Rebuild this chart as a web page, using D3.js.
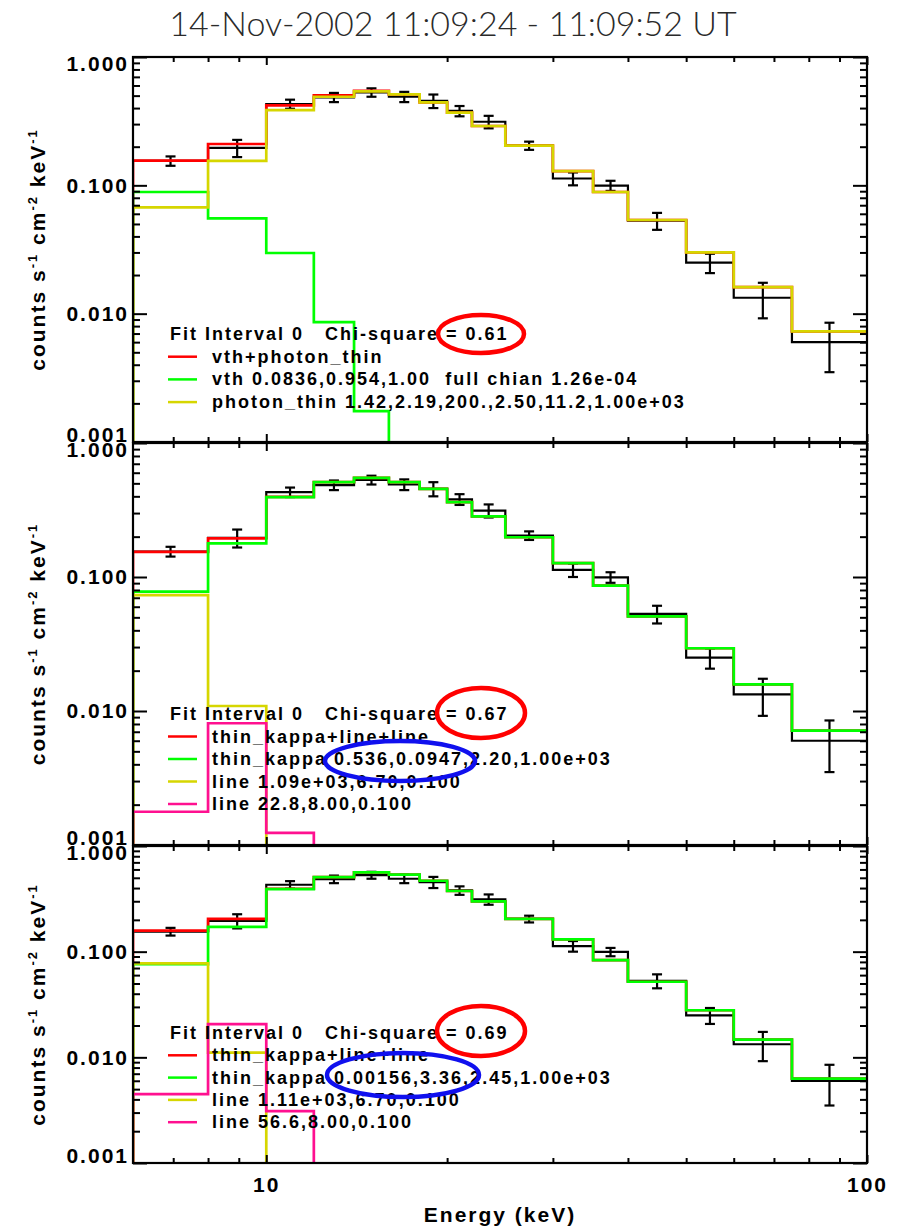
<!DOCTYPE html>
<html>
<head>
<meta charset="utf-8">
<script src="https://cdn.jsdelivr.net/npm/d3@7"></script>
<style>
  body { margin: 0; background: #fff; }
  svg text { font-family: "Liberation Sans", Arial, sans-serif; font-weight: bold; letter-spacing: 2px; }
  .title { font-family: "Lato", "DejaVu Sans", sans-serif; font-weight: 300; letter-spacing: 0; }
</style>
</head>
<body>
<svg id="chart" width="901" height="1228"></svg>
<script>
// energy bins (keV) and the measured spectrum, same interval in all 3 fits
const binEdges = [6, 8, 10, 12, 14, 16, 18, 20, 22, 25, 30, 35, 40, 50, 60, 75, 100];
const counts   = [0.155, 0.196, 0.43, 0.485, 0.53, 0.49, 0.455, 0.38, 0.313, 0.204, 0.113, 0.0995, 0.053, 0.025, 0.0133, 0.0060];
const countErr = [0.013, 0.03, 0.035, 0.04, 0.04, 0.045, 0.055, 0.035, 0.035, 0.015, 0.013, 0.009, 0.008, 0.0043, 0.0041, 0.0025];

// fit 1: vth + photon_thin
const topTotal = [0.156, 0.21, 0.42, 0.503, 0.545, 0.512, 0.443, 0.368, 0.29, 0.204, 0.129, 0.0887, 0.0537, 0.030, 0.0161, 0.00728];
const topVth   = [0.0887, 0.0553, 0.0297, 0.0086, 0.00174, null, null, null, null, null, null, null, null, null, null, null];
const topThin  = [0.0673, 0.155, 0.386, 0.49, 0.54, 0.512, 0.443, 0.368, 0.29, 0.204, 0.129, 0.0887, 0.0537, 0.030, 0.0161, 0.00728];

// fit 2: thin_kappa + line + line
const midTotal = [0.154, 0.194, 0.396, 0.511, 0.55, 0.511, 0.455, 0.362, 0.283, 0.198, 0.127, 0.0863, 0.0508, 0.0294, 0.0158, 0.00713];
const midKappa = [0.0778, 0.178, 0.394, 0.511, 0.55, 0.511, 0.455, 0.362, 0.283, 0.198, 0.127, 0.0863, 0.0508, 0.0294, 0.0158, 0.00713];
const midLine1 = [0.0733, 0.0109, null, null, null, null, null, null, null, null, null, null, null, null, null, null];
const midLine2 = [0.00177, 0.0081, 0.00123, null, null, null, null, null, null, null, null, null, null, null, null, null];

// fit 3: thin_kappa + line + line
const botTotal = [0.158, 0.204, 0.394, 0.508, 0.563, 0.535, 0.469, 0.375, 0.299, 0.204, 0.131, 0.083, 0.0519, 0.0279, 0.0147, 0.00628];
const botKappa = [0.076, 0.172, 0.391, 0.508, 0.563, 0.535, 0.469, 0.375, 0.299, 0.204, 0.131, 0.083, 0.0519, 0.0279, 0.0147, 0.00628];
const botLine1 = [0.0776, 0.0111, null, null, null, null, null, null, null, null, null, null, null, null, null, null];
const botLine2 = [0.00449, 0.0206, 0.0031, null, null, null, null, null, null, null, null, null, null, null, null, null];

const yTickValues = [1, 0.1, 0.01, 0.001];
const xTickValues = [10, 100];
const chiSquare = ["0.61", "0.67", "0.69"];
const topLegend = ["vth+photon_thin", "vth 0.0836,0.954,1.00  full chian 1.26e-04", "photon_thin 1.42,2.19,200.,2.50,11.2,1.00e+03"];
const midLegend = ["thin_kappa+line+line", "thin_kappa 0.536,0.0947,2.20,1.00e+03", "line 1.09e+03,6.70,0.100", "line 22.8,8.00,0.100"];
const botLegend = ["thin_kappa+line+line", "thin_kappa 0.00156,3.36,2.45,1.00e+03", "line 1.11e+03,6.70,0.100", "line 56.6,8.00,0.100"];

const RED = "#ff0000", GREEN = "#00ff00", YELLOW = "#d6d600", PINK = "#ff1090";

const panels = [
  { y0: 57, y1: 442, models: [topTotal, topVth, topThin], colors: [RED, GREEN, YELLOW],
    legend: topLegend, legY: 340, rowGap: 22.7, red: [481, 334, 43, 19], blue: null },
  { y0: 443, y1: 845, models: [midTotal, midKappa, midLine1, midLine2], colors: [RED, GREEN, YELLOW, PINK],
    legend: midLegend, legY: 720, rowGap: 22.5, red: [481, 713, 44, 25], blue: [400, 761, 75, 20] },
  { y0: 846, y1: 1163, models: [botTotal, botKappa, botLine1, botLine2], colors: [RED, GREEN, YELLOW, PINK],
    legend: botLegend, legY: 1039, rowGap: 22.3, red: [481, 1031, 44, 25], blue: [403, 1075, 76, 22] }
];

const left = 133, right = 867;
const svg = d3.select("#chart");

let x = d3.scaleLog().domain([6, 100]).range([left, right]);

// keep runs of spaces (svg collapses them)
let keepSpaces = (s) => s.replace(/ {2,}/g, (m) => "\u00A0".repeat(m.length));

svg.append("text")
   .attr("class", "title")
   .attr("x", 453)
   .attr("y", 36)
   .attr("text-anchor", "middle")
   .attr("fill", "#2a2a2a")
   .style("font-size", "34px")
   .text("14-Nov-2002 11:09:24 - 11:09:52 UT");

let minorY = [];
[0.001, 0.01, 0.1].forEach((d) => { for (let m = 2; m <= 9; m++) minorY.push(d * m); });
let minorX = [7, 8, 9, 20, 30, 40, 50, 60, 70, 80, 90];

function stepPoints(values, y, bottom, fromBottom) {
  let pts = [];
  let yv = (v) => (v == null ? bottom + 10 : y(v));
  if (fromBottom) pts.push([x(binEdges[0]), bottom + 10]);
  values.forEach((v, i) => {
    pts.push([x(binEdges[i]), yv(v)]);
    pts.push([x(binEdges[i + 1]), yv(v)]);
  });
  return pts;
}

let line = d3.line();

panels.forEach((p, pi) => {
  let y = d3.scaleLog().domain([0.001, 1]).range([p.y1, p.y0]);
  let g = svg.append("g");

  g.append("clipPath").attr("id", "clip" + pi)
   .append("rect")
   .attr("x", left).attr("y", p.y0)
   .attr("width", right - left).attr("height", p.y1 - p.y0);

  let plot = g.append("g").attr("clip-path", "url(#clip" + pi + ")");

  // measured spectrum
  plot.append("path")
      .attr("d", line(stepPoints(counts, y, p.y1, false)))
      .attr("fill", "none")
      .attr("stroke", "#000")
      .attr("stroke-width", 2.2);

  let bars = plot.selectAll(".err")
      .data(counts)
      .enter().append("g")
      .attr("class", "err")
      .attr("stroke", "#000")
      .attr("stroke-width", 2.2);
  let cx = (d, i) => x(Math.sqrt(binEdges[i] * binEdges[i + 1]));
  bars.append("line")
      .attr("x1", cx).attr("x2", cx)
      .attr("y1", (d, i) => y(d + countErr[i]))
      .attr("y2", (d, i) => y(d - countErr[i]));
  bars.append("line")
      .attr("x1", (d, i) => cx(d, i) - 5).attr("x2", (d, i) => cx(d, i) + 5)
      .attr("y1", (d, i) => y(d + countErr[i])).attr("y2", (d, i) => y(d + countErr[i]));
  bars.append("line")
      .attr("x1", (d, i) => cx(d, i) - 5).attr("x2", (d, i) => cx(d, i) + 5)
      .attr("y1", (d, i) => y(d - countErr[i])).attr("y2", (d, i) => y(d - countErr[i]));

  // model components
  p.models.forEach((m, k) => {
    plot.append("path")
        .attr("d", line(stepPoints(m, y, p.y1, true)))
        .attr("fill", "none")
        .attr("stroke", p.colors[k])
        .attr("stroke-width", 2.7);
  });

  // axes
  let yMajorL = d3.axisLeft(y).tickValues(yTickValues).tickSize(-14).tickSizeOuter(0)
                  .tickPadding(4).tickFormat(d3.format(".3f"));
  let yMinorL = d3.axisLeft(y).tickValues(minorY).tickSize(-7).tickSizeOuter(0).tickFormat("");
  let yMajorR = d3.axisRight(y).tickValues(yTickValues).tickSize(-14).tickSizeOuter(0).tickFormat("");
  let yMinorR = d3.axisRight(y).tickValues(minorY).tickSize(-7).tickSizeOuter(0).tickFormat("");

  let yl = g.append("g").attr("transform", "translate(" + left + ",0)").call(yMajorL);
  g.append("g").attr("transform", "translate(" + left + ",0)").call(yMinorL);
  g.append("g").attr("transform", "translate(" + right + ",0)").call(yMajorR);
  g.append("g").attr("transform", "translate(" + right + ",0)").call(yMinorR);

  yl.selectAll("text")
    .style("font-size", "21px")
    .attr("fill", "#000")
    .attr("y", (d) => (d === 1 ? 7 : d === 0.001 ? -7 : 0));

  let xb = d3.axisBottom(x).tickValues(xTickValues).tickSize(-8).tickSizeOuter(0)
             .tickPadding(14).tickFormat(pi === 2 ? d3.format("d") : "");
  let xbm = d3.axisBottom(x).tickValues(minorX).tickSize(-5).tickSizeOuter(0).tickFormat("");
  let xt = d3.axisTop(x).tickValues(xTickValues).tickSize(-8).tickSizeOuter(0).tickFormat("");
  let xtm = d3.axisTop(x).tickValues(minorX).tickSize(-5).tickSizeOuter(0).tickFormat("");

  let xa = g.append("g").attr("transform", "translate(0," + p.y1 + ")").call(xb);
  g.append("g").attr("transform", "translate(0," + p.y1 + ")").call(xbm);
  g.append("g").attr("transform", "translate(0," + p.y0 + ")").call(xt);
  g.append("g").attr("transform", "translate(0," + p.y0 + ")").call(xtm);
  xa.selectAll("text").style("font-size", "21px").attr("fill", "#000");

  g.selectAll(".domain").remove();
  g.selectAll(".tick line").attr("stroke-width", 2);

  g.append("rect")
   .attr("x", left).attr("y", p.y0)
   .attr("width", right - left).attr("height", p.y1 - p.y0)
   .attr("fill", "none")
   .attr("stroke", "#000")
   .attr("stroke-width", 2.2);

  // y title
  let yt = g.append("text")
            .attr("transform", "translate(45," + ((p.y0 + p.y1) / 2) + ") rotate(-90)")
            .attr("text-anchor", "middle")
            .style("font-size", "21px");
  yt.append("tspan").text("counts s");
  yt.append("tspan").attr("dy", -8).style("font-size", "13px").text("-1");
  yt.append("tspan").attr("dy", 8).text(" cm");
  yt.append("tspan").attr("dy", -8).style("font-size", "13px").text("-2");
  yt.append("tspan").attr("dy", 8).text(" keV");
  yt.append("tspan").attr("dy", -8).style("font-size", "13px").text("-1");

  // legend
  let leg = g.append("g").style("font-size", "18px");
  leg.append("text")
     .attr("x", 170).attr("y", p.legY)
     .text(keepSpaces("Fit Interval 0   Chi-square = " + chiSquare[pi]));
  p.legend.forEach((t, k) => {
    let by = p.legY + p.rowGap * (k + 1);
    leg.append("line")
       .attr("x1", 168).attr("x2", 197)
       .attr("y1", by - 6).attr("y2", by - 6)
       .attr("stroke", p.colors[k])
       .attr("stroke-width", 2.5);
    leg.append("text")
       .attr("x", 212).attr("y", by)
       .text(keepSpaces(t));
  });

  g.append("ellipse")
   .attr("cx", p.red[0]).attr("cy", p.red[1])
   .attr("rx", p.red[2]).attr("ry", p.red[3])
   .attr("fill", "none").attr("stroke", "#ff0000").attr("stroke-width", 4.5);
  if (p.blue) {
    g.append("ellipse")
     .attr("cx", p.blue[0]).attr("cy", p.blue[1])
     .attr("rx", p.blue[2]).attr("ry", p.blue[3])
     .attr("fill", "none").attr("stroke", "#1010ee").attr("stroke-width", 4.5);
  }
});

svg.append("text")
   .attr("x", 500)
   .attr("y", 1222)
   .attr("text-anchor", "middle")
   .style("font-size", "21px")
   .text("Energy (keV)");
</script>
</body>
</html>
